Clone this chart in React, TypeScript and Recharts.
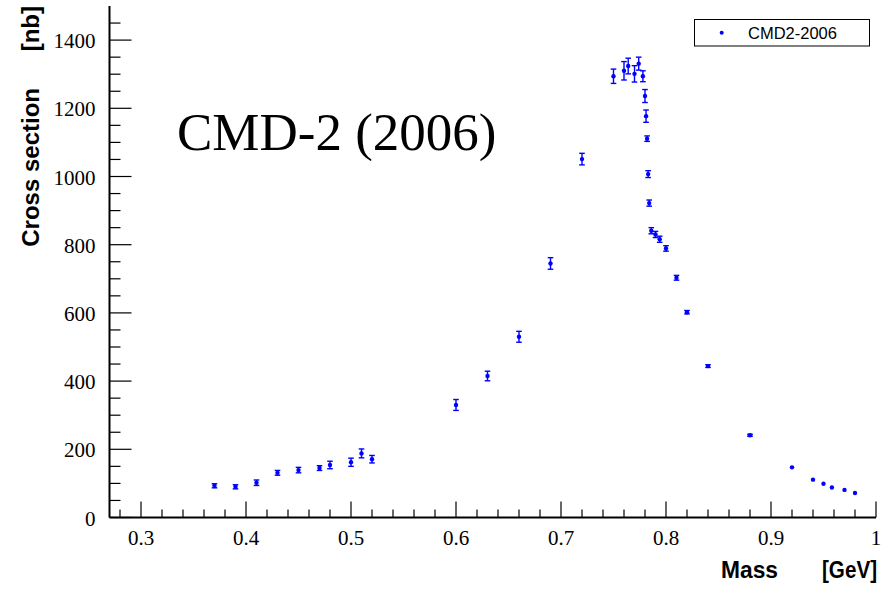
import React from 'react';
import { ScatterChart, Scatter, XAxis, YAxis, ErrorBar } from 'recharts';

// CMD-2 (2006) cross section vs mass
const masses = [
  0.37, 0.39, 0.41, 0.43, 0.45, 0.47, 0.48, 0.5, 0.51, 0.52,
  0.6, 0.63, 0.66, 0.69, 0.72,
  0.75, 0.76, 0.764, 0.77, 0.774, 0.778, 0.78, 0.781, 0.782, 0.783, 0.784, 0.786, 0.79, 0.794, 0.8, 0.81, 0.82,
  0.84, 0.88, 0.92, 0.94, 0.95, 0.958, 0.97, 0.98,
];
const sigma = [
  93, 90, 102, 131, 139, 145, 154, 162, 188, 171,
  330, 415, 530, 745, 1051,
  1294, 1310, 1324, 1301, 1331, 1294, 1236, 1177, 1111, 1007, 922, 841, 830, 816, 789, 703, 602,
  444, 241, 147, 111, 99, 88, 81, 72,
];
const sigmaErr = [
  6, 6, 8, 7, 8, 7, 11, 12, 13, 11,
  16, 14, 16, 17, 17,
  21, 27, 23, 24, 19, 16, 19, 18, 8, 10, 9, 9, 9, 9, 8, 7, 5,
  4, 3, 0, 0, 0, 0, 0, 0,
];

const xMajorTicks = [0.3, 0.4, 0.5, 0.6, 0.7, 0.8, 0.9, 1.0];
const xTickLabels = ['0.3', '0.4', '0.5', '0.6', '0.7', '0.8', '0.9', '1'];
const yMajorTicks = [0, 200, 400, 600, 800, 1000, 1200, 1400];
const yTickLabels = ['0', '200', '400', '600', '800', '1000', '1200', '1400'];

const seriesName = 'CMD2-2006';
const BLUE = '#0000ff';

// minor tick grids (every 0.02 GeV, every 50 nb)
const xTicks = Array.from({ length: 37 }, (_, i) => Math.round((0.28 + i * 0.02) * 100) / 100);
const yTicks = Array.from({ length: 30 }, (_, i) => i * 50);

const points = masses.map((m, i) => ({ x: m, y: sigma[i], err: sigmaErr[i] }));
const withErr = points.filter((p) => p.err > 0);
const noErr = points.filter((p) => p.err === 0);

const xLabel = (v: number) => {
  const i = xMajorTicks.findIndex((t) => Math.abs(t - v) < 1e-6);
  return i >= 0 ? xTickLabels[i] : null;
};
const yLabel = (v: number) => {
  const i = yMajorTicks.indexOf(v);
  return i >= 0 ? yTickLabels[i] : null;
};

const serif = 'Liberation Serif, Times New Roman, serif';
const sans = 'Liberation Sans, Arial, sans-serif';

const BottomTick = (props: any) => {
  const { x, y, payload } = props;
  const label = xLabel(payload.value);
  return (
    <g>
      <line x1={x} y1={y} x2={x} y2={y - (label ? 16 : 8)} stroke="#000" strokeWidth={1.2} />
      {label && (
        <text x={x} y={y + 27} textAnchor="middle" fontFamily={serif} fontSize={21} fill="#000">
          {label}
        </text>
      )}
    </g>
  );
};

const TopTick = (props: any) => {
  const { x, y, payload } = props;
  const major = xLabel(payload.value) !== null;
  return <line x1={x} y1={y} x2={x} y2={y + (major ? 16 : 8)} stroke="#000" strokeWidth={1.2} />;
};

const LeftTick = (props: any) => {
  const { x, y, payload } = props;
  const label = yLabel(payload.value);
  return (
    <g>
      <line x1={x} y1={y} x2={x + (label ? 22 : 11)} y2={y} stroke="#000" strokeWidth={1.2} />
      {label && (
        <text x={x - 14} y={y + 8} textAnchor="end" fontFamily={serif} fontSize={21} fill="#000">
          {label}
        </text>
      )}
    </g>
  );
};

const RightTick = (props: any) => {
  const { x, y, payload } = props;
  const major = yLabel(payload.value) !== null;
  return <line x1={x} y1={y} x2={x - (major ? 22 : 11)} y2={y} stroke="#000" strokeWidth={1.2} />;
};

const Dot = (props: any) => <circle cx={props.cx} cy={props.cy} r={2.2} fill={BLUE} />;

export default function App() {
  return (
    <div style={{ position: 'absolute', left: 0, top: 0, width: 890, height: 589, background: '#fff' }}>
      <ScatterChart width={890} height={589} margin={{ top: 6, right: 14, bottom: 0, left: 0 }}>
        <XAxis
          type="number"
          dataKey="x"
          domain={[0.27, 1.0]}
          allowDataOverflow
          ticks={xTicks}
          interval={0}
          height={71.5}
          tickSize={0}
          tickMargin={0}
          tickLine={false}
          axisLine={{ stroke: '#000', strokeWidth: 2 }}
          tick={<BottomTick />}
        />
        <XAxis
          xAxisId="top"
          orientation="top"
          type="number"
          dataKey="x"
          domain={[0.27, 1.0]}
          allowDataOverflow
          ticks={xTicks}
          interval={0}
          height={0}
          tickSize={0}
          tickMargin={0}
          tickLine={false}
          axisLine={{ stroke: '#000', strokeWidth: 1.5 }}
          tick={<TopTick />}
        />
        <YAxis
          type="number"
          dataKey="y"
          domain={[0, 1500]}
          allowDataOverflow
          ticks={yTicks}
          interval={0}
          width={109.5}
          tickSize={0}
          tickMargin={0}
          tickLine={false}
          axisLine={{ stroke: '#000', strokeWidth: 2 }}
          tick={<LeftTick />}
        />
        <YAxis
          yAxisId="right"
          orientation="right"
          type="number"
          dataKey="y"
          domain={[0, 1500]}
          allowDataOverflow
          ticks={yTicks}
          interval={0}
          width={0}
          tickSize={0}
          tickMargin={0}
          tickLine={false}
          axisLine={{ stroke: '#000', strokeWidth: 1.5 }}
          tick={<RightTick />}
        />
        <Scatter name={seriesName} data={withErr} shape={<Dot />} isAnimationActive={false}>
          <ErrorBar dataKey="err" direction="y" width={2.8} stroke={BLUE} strokeWidth={1.4} isAnimationActive={false} />
        </Scatter>
        <Scatter name={seriesName} data={noErr} shape={<Dot />} isAnimationActive={false} />
      </ScatterChart>

      <svg
        width={890}
        height={589}
        style={{ position: 'absolute', left: 0, top: 0, pointerEvents: 'none' }}
      >
        {/* title */}
        <text x={177} y={150} fontFamily={serif} fontSize={53} fill="#000">
          CMD-2 (2006)
        </text>
        {/* legend */}
        <rect x={694.5} y={19.5} width={175} height={26.5} fill="#fff" stroke="#000" strokeWidth={1} />
        <circle cx={721.7} cy={32.7} r={2} fill={BLUE} />
        <text x={748} y={39} fontFamily={sans} fontSize={16.5} fill="#000">
          {seriesName}
        </text>
        {/* axis titles */}
        <text
          x={721}
          y={578}
          fontFamily={sans}
          fontWeight="bold"
          fontSize={23}
          textLength={57}
          lengthAdjust="spacingAndGlyphs"
          fill="#000"
        >
          Mass
        </text>
        <text
          x={822}
          y={578}
          fontFamily={sans}
          fontWeight="bold"
          fontSize={23}
          textLength={55}
          lengthAdjust="spacingAndGlyphs"
          fill="#000"
        >
          [GeV]
        </text>
        <text
          transform="translate(39,88) rotate(-90)"
          textAnchor="end"
          fontFamily={sans}
          fontWeight="bold"
          fontSize={24}
          fill="#000"
        >
          Cross section
        </text>
        <text
          transform="translate(39,6) rotate(-90)"
          textAnchor="end"
          fontFamily={sans}
          fontWeight="bold"
          fontSize={24}
          fill="#000"
        >
          [nb]
        </text>
      </svg>
    </div>
  );
}
